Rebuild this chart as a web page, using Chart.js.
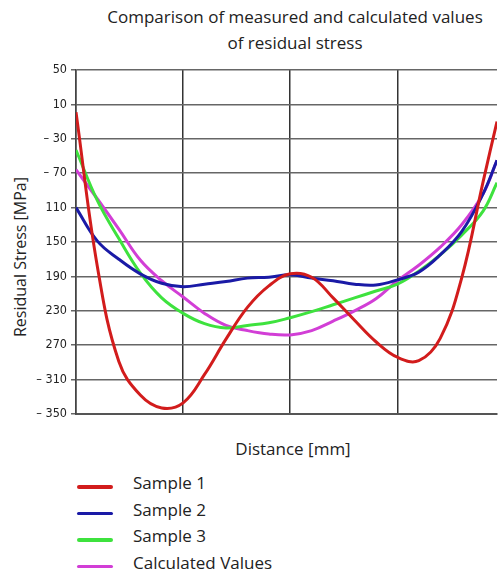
<!DOCTYPE html>
<html>
<head>
<meta charset="utf-8">
<script src="https://cdn.jsdelivr.net/npm/chart.js@4"></script>
<style>
  html, body { margin: 0; padding: 0; background: #fff; }
  body { width: 498px; height: 579px; position: relative; overflow: hidden; font-family: "Open Sans", sans-serif; color: #222; }
  #wrap { position: absolute; left: 0; top: 0; width: 498px; height: 470px; }
  .title { position: absolute; left: 85px; width: 420px; text-align: center; font-size: 17px; line-height: 22px; }
  #ytitle { position: absolute; left: 20px; top: 257px; transform: translate(-50%, -50%) rotate(-90deg); white-space: nowrap; font-size: 16px; }
  #xtitle { position: absolute; left: 293px; top: 448px; transform: translate(-50%, -50%); white-space: nowrap; font-size: 17px; }
  #legend { position: absolute; left: 76px; top: 471px; }
  .item { position: relative; height: 26.5px; }
  .item .sw { position: absolute; left: 1px; top: 14px; width: 36px; height: 3.5px; border-radius: 2px; }
  .item .lb { position: absolute; left: 57px; top: 0; font-size: 17px; line-height: 24px; white-space: nowrap; }
</style>
</head>
<body>
<div class="title" style="top:6px">Comparison of measured and calculated values</div>
<div class="title" style="top:32px">of residual stress</div>
<div id="ytitle">Residual Stress [MPa]</div>
<div id="xtitle">Distance [mm]</div>
<div id="wrap"><canvas id="c"></canvas></div>
<div id="legend"></div>
<script>
// distance positions (grid units of the x axis)
const distance = [0, 0.2, 0.4, 0.6, 0.8, 1.0, 1.2, 1.4, 1.6, 1.8, 2.0, 2.2, 2.4, 2.6, 2.8, 3.0, 3.2, 3.4, 3.6, 3.8, 3.93];

const sample1 = [1, -179, -289, -328, -343, -337, -304, -263, -226, -201, -187, -191, -215, -241, -266, -284, -288, -262, -192, -80, -10];
const sample2 = [-110, -149, -170, -187, -198, -202, -199, -196, -192, -191, -188, -192, -195, -199, -200, -194, -185, -165, -138, -94, -55];
const sample3 = [-43, -102, -146, -186, -215, -233, -245, -250, -247, -244, -238, -231, -223, -215, -207, -199, -184, -165, -142, -114, -81];
const calculated = [-66, -100, -135, -171, -195, -214, -233, -247, -253, -257, -258, -253, -242, -230, -216, -195, -177, -156, -130, -94, -55];

const seriesNames = ['Sample 1', 'Sample 2', 'Sample 3', 'Calculated Values'];
const seriesColors = ['#d21c1c', '#1a1aa6', '#3ee23e', '#d23ed6'];

const yTickValues = [50, 10, -30, -70, -110, -150, -190, -230, -270, -310, -350];
const yTickLabels = ['50', '10', '\u2013 30', '\u2013 70', '110', '150', '190', '230', '270', '\u2013 310', '\u2013 350'];

const xGridValues = [0, 1, 2, 3];

const allSeries = [sample1, sample2, sample3, calculated];

const datasets = allSeries.map((vals, i) => ({
  label: seriesNames[i],
  data: distance.map((d, j) => ({ x: d, y: vals[j] })),
  borderColor: seriesColors[i],
  backgroundColor: seriesColors[i],
  borderWidth: 3,
  pointRadius: 0,
  tension: 0.4,
  fill: false
}));

new Chart(document.getElementById('c'), {
  type: 'line',
  data: { datasets },
  options: {
    responsive: true,
    maintainAspectRatio: false,
    animation: false,
    layout: { padding: { top: 70, right: 1, bottom: 56, left: 0 } },
    plugins: { legend: { display: false }, tooltip: { enabled: false }, title: { display: false } },
    scales: {
      x: {
        type: 'linear',
        min: 0,
        max: 3.93,
        afterBuildTicks: (s) => { s.ticks = xGridValues.map(v => ({ value: v })); },
        afterFit: (s) => { s.height = 0; },
        ticks: { display: false },
        grid: { color: '#333', lineWidth: 1.5, drawTicks: false },
        border: { display: true, color: '#555', width: 2 }
      },
      y: {
        min: -350,
        max: 50,
        afterBuildTicks: (s) => { s.ticks = yTickValues.map(v => ({ value: v })); },
        afterFit: (s) => { s.width = 76; },
        ticks: {
          padding: 4,
          color: '#222',
          font: { family: 'DejaVu Sans Condensed', size: 12.5 },
          callback: (v) => {
            const i = yTickValues.indexOf(v);
            return i >= 0 ? yTickLabels[i] : '';
          }
        },
        grid: { color: '#666', lineWidth: 1.5, tickLength: 5 },
        border: { display: true, color: '#444', width: 1.5 }
      }
    }
  }
});

// legend
const legend = document.getElementById('legend');
seriesNames.forEach((name, i) => {
  const it = document.createElement('div');
  it.className = 'item';
  it.innerHTML = '<span class="sw" style="background:' + seriesColors[i] + '"></span><span class="lb">' + name + '</span>';
  legend.appendChild(it);
});
</script>
</body>
</html>
